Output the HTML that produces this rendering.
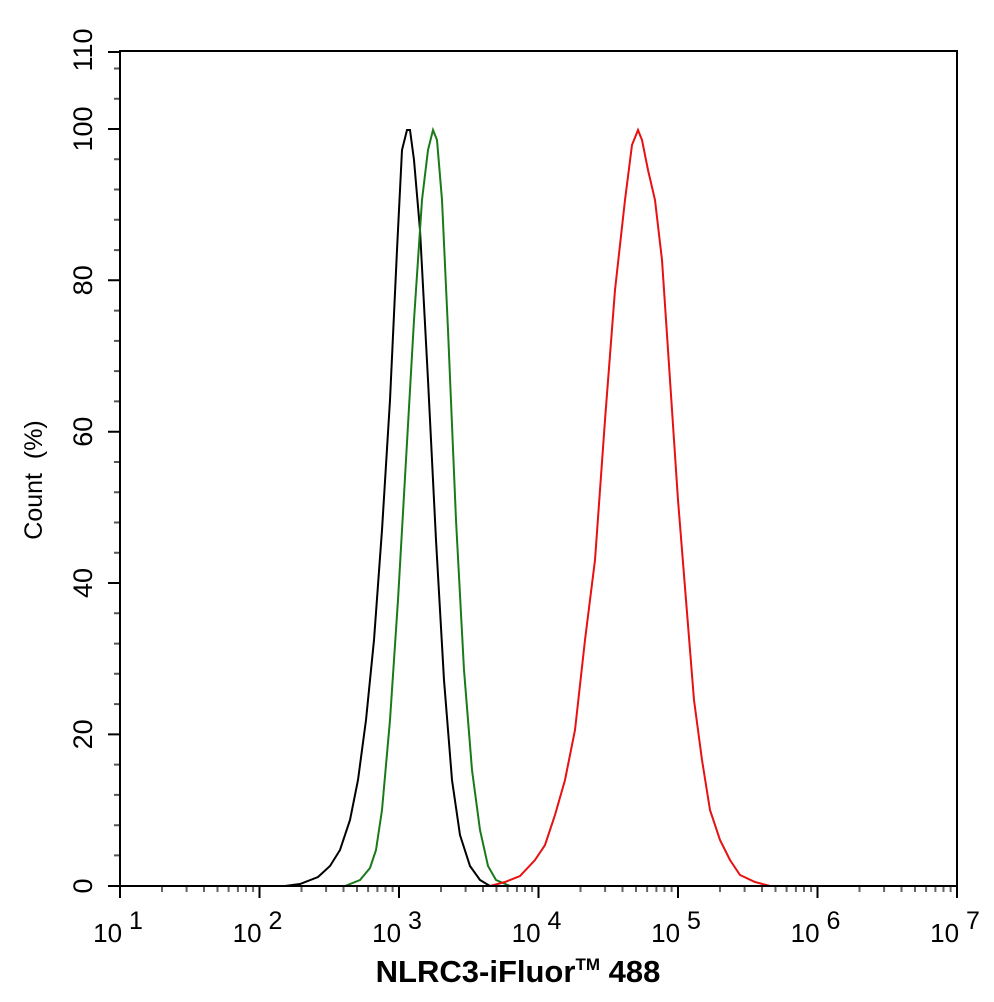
<!DOCTYPE html>
<html><head><style>body{margin:0;background:#fff}svg{display:block}</style></head><body>
<svg width="994" height="1002" viewBox="0 0 994 1002" xmlns="http://www.w3.org/2000/svg" xmlns:xlink="http://www.w3.org/1999/xlink" font-family="Liberation Sans, sans-serif">
<defs>
<path id="mx" d="M42,886V892M66.6,886V892M84,886V892M97.5,886V892M108.6,886V892M117.9,886V892M126,886V892M133.1,886V892" stroke="#666" stroke-width="2"/>
</defs>
<rect width="994" height="1002" fill="#fff"/>
<path d="M114,855.4H120M114,825.2H120M114,794.9H120M114,764.6H120M114,704.1H120M114,673.8H120M114,643.6H120M114,613.3H120M114,552.8H120M114,522.5H120M114,492.2H120M114,462H120M114,401.4H120M114,371.1H120M114,340.9H120M114,310.6H120M114,250.1H120M114,219.8H120M114,189.5H120M114,159.3H120M114,98.7H120M114,68.5H120" stroke="#555" stroke-width="2"/>
<path d="M108,886H120M108,734.4H120M108,583H120M108,431.7H120M108,280.3H120M108,129H120M108,52H120" stroke="#000" stroke-width="2"/>
<use xlink:href="#mx" x="120"/><use xlink:href="#mx" x="259.5"/><use xlink:href="#mx" x="399"/><use xlink:href="#mx" x="538.5"/><use xlink:href="#mx" x="678"/><use xlink:href="#mx" x="817.5"/>
<path d="M120,886V898M259.5,886V898M399,886V898M538.5,886V898M678,886V898M817.5,886V898M957,886V898" stroke="#000" stroke-width="2"/>
<g font-size="27" text-anchor="middle">
<text transform="translate(92,886) rotate(-90)">0</text>
<text transform="translate(92,734.4) rotate(-90)">20</text>
<text transform="translate(92,583) rotate(-90)">40</text>
<text transform="translate(92,431.7) rotate(-90)">60</text>
<text transform="translate(92,280.3) rotate(-90)">80</text>
<text transform="translate(92,129) rotate(-90)">100</text>
<text transform="translate(92,50) rotate(-90)">110</text>
</g>
<g font-size="26" text-anchor="middle">
<text x="118" y="942">10<tspan dy="-13" font-size="25"> 1</tspan></text>
<text x="257.5" y="942">10<tspan dy="-13" font-size="25"> 2</tspan></text>
<text x="397" y="942">10<tspan dy="-13" font-size="25"> 3</tspan></text>
<text x="536.5" y="942">10<tspan dy="-13" font-size="25"> 4</tspan></text>
<text x="676" y="942">10<tspan dy="-13" font-size="25"> 5</tspan></text>
<text x="815.5" y="942">10<tspan dy="-13" font-size="25"> 6</tspan></text>
<text x="955" y="942">10<tspan dy="-13" font-size="25"> 7</tspan></text>
</g>
<polyline fill="none" stroke="#000" stroke-width="2" points="285,886 300,884 318,877 330,866 340,850 350,820 358,780 366,720 374,640 382,530 390,400 397,250 402,150 407,130 410,130 414,160 420,230 428,380 436,540 444,680 452,780 460,835 470,866 480,880 490,886"/>
<polyline fill="none" stroke="#1a7a1a" stroke-width="2" points="345,886 360,880 370,868 376,850 382,810 390,720 398,600 406,460 414,320 422,200 428,150 433,130 437,140 442,200 448,330 456,520 464,670 472,770 480,830 488,866 496,880 510,886"/>
<polyline fill="none" stroke="#e81010" stroke-width="2" points="490,886 505,882 520,876 535,860 545,845 555,815 565,780 575,730 585,640 595,560 605,420 615,290 625,200 632,145 638,130 642,140 648,170 655,200 662,260 670,380 678,500 686,600 694,700 702,760 710,810 720,840 730,860 740,875 755,882 770,886"/>
<rect x="120" y="51" width="837" height="835" fill="none" stroke="#000" stroke-width="2"/>
<text transform="translate(42,480) rotate(-90)" text-anchor="middle" font-size="25">Count&#160;&#160;(%)</text>
<text x="518" y="982" text-anchor="middle" font-size="31" font-weight="bold">NLRC3-iFluor<tspan font-size="17" dy="-12">TM</tspan><tspan dy="12"> 488</tspan></text>
</svg>
</body></html>
